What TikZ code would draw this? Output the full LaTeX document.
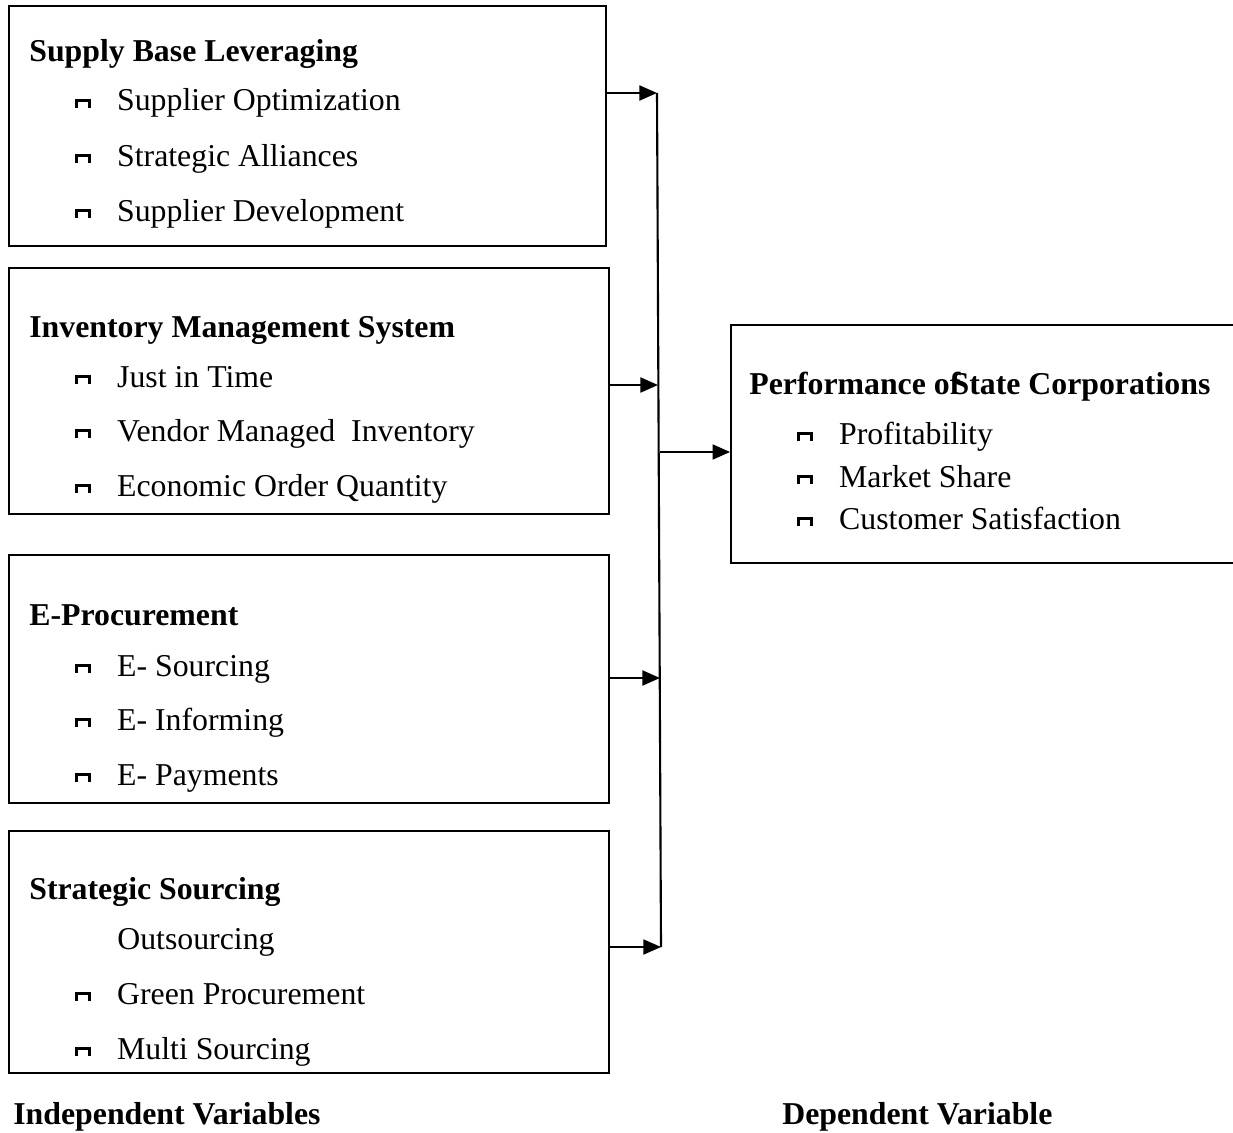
\documentclass[tikz,border=0pt]{standalone}
\usepackage{fontspec}
\setmainfont{Liberation Serif}
\usetikzlibrary{arrows.meta,fit}
\newcommand{\txtsize}{\fontsize{18.1}{22}\selectfont}
\newcommand{\sqbul}{\raisebox{1.6pt}{\rule{1.4pt}{5pt}\rule[3.6pt]{5.9pt}{1.4pt}\rule{1.4pt}{5pt}}}
\newcommand{\itm}[1]{\sqbul\hspace{15.1pt}#1}

\begin{document}
\begin{tikzpicture}[x=0.02cm, y=-0.02cm,
    varbox/.style={draw=black,line width=1pt,inner sep=0pt},
    head/.style={anchor=base west,inner sep=0pt,font=\txtsize\bfseries},
    item/.style={anchor=base west,inner sep=0pt,font=\txtsize},
    link/.style={line width=1.2pt,-{Triangle[length=10pt,width=8.5pt]}},
   ]
    \useasboundingbox (0,0) rectangle (1233,1132);

    % independent variables
    \node (sbl)   [varbox,fit={(9,6) (606,246)}] {};
    \node (sblT)  [head] at (29,62)  {Supply Base Leveraging};
    \node (sbl1)  [item] at (75,111) {\itm{Supplier Optimization}};
    \node (sbl2)  [item] at (75,166) {\itm{Strategic Alliances}};
    \node (sbl3)  [item] at (75,221) {\itm{Supplier Development}};

    \node (ims)   [varbox,fit={(9,268) (609,514)}] {};
    \node (imsT)  [head] at (29,337) {Inventory Management System};
    \node (ims1)  [item] at (75,387) {\itm{Just in Time}};
    \node (ims2)  [item] at (75,441) {\itm{Vendor Managed\ \ Inventory}};
    \node (ims3)  [item] at (75,496) {\itm{Economic Order Quantity}};

    \node (eproc)  [varbox,fit={(9,555) (609,803)}] {};
    \node (eprocT) [head] at (29,625) {E-Procurement};
    \node (eproc1) [item] at (75,676) {\itm{E- Sourcing}};
    \node (eproc2) [item] at (75,730) {\itm{E- Informing}};
    \node (eproc3) [item] at (75,785) {\itm{E- Payments}};

    \node (strat)  [varbox,fit={(9,831) (609,1073)}] {};
    \node (stratT) [head] at (29,899)  {Strategic Sourcing};
    \node (strat1) [item] at (117,949) {Outsourcing};
    \node (strat2) [item] at (75,1004) {\itm{Green Procurement}};
    \node (strat3) [item] at (75,1059) {\itm{Multi Sourcing}};

    % dependent variable
    \node (perf)   [varbox,fit={(731,325) (1245,563)}] {};
    \node (perfT)  [head] at (749,394) {Performance of\kern-5pt State Corporations};
    \node (perf1)  [item] at (797,444) {\itm{Profitability}};
    \node (perf2)  [item] at (797,487) {\itm{Market Share}};
    \node (perf3)  [item] at (797,529) {\itm{Customer Satisfaction}};

    \node (indep) [head] at (13,1124)  {Independent Variables};
    \node (dep)   [head] at (782,1124) {Dependent Variable};

    % connectors
    \coordinate (j1)  at (657,93);
    \coordinate (j2)  at (658,385);
    \coordinate (j3)  at (660,678);
    \coordinate (j4)  at (661,947);
    \coordinate (hub) at (660,452);

    \draw[line width=1.2pt] (j1) -- (j4);
    \draw[link] (sbl.east |- j1)   -- (j1);
    \draw[link] (ims.east |- j2)   -- (j2);
    \draw[link] (eproc.east |- j3) -- (j3);
    \draw[link] (strat.east |- j4) -- (j4);
    \draw[link] (hub) -- (perf.west |- hub);
\end{tikzpicture}
\end{document}
